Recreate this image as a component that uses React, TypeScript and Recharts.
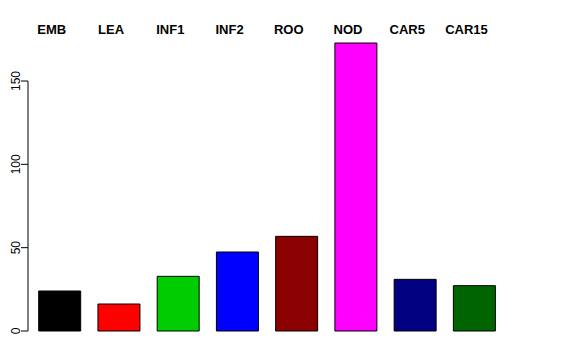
import React from "react";
import { BarChart, Bar, XAxis, YAxis, Cell } from "recharts";

const categories = ["EMB", "LEA", "INF1", "INF2", "ROO", "NOD", "CAR5", "CAR15"];
const values = [24, 16.2, 32.8, 47.4, 56.8, 172.8, 31, 27.2];
const colors = ["#000000", "#FF0000", "#00CD00", "#0000FF", "#8B0000", "#FF00FF", "#000080", "#006400"];
const yTicks = [0, 50, 100, 150];

const data = categories.map((c, i) => ({ name: c, value: values[i] }));

const DOMAIN_MAX = 180;
const PLOT_TOP = 31;
const PLOT_BOTTOM = 331;
const PX_PER_UNIT = (PLOT_BOTTOM - PLOT_TOP) / DOMAIN_MAX;

const YTick = (props: any) => {
  const { x, y, payload, index } = props;
  const span = (yTicks[yTicks.length - 1] - yTicks[0]) * PX_PER_UNIT;
  return (
    <g>
      <line x1={x - 7} y1={y} x2={x} y2={y} stroke="#000" strokeWidth={1} />
      {index === 0 && <line x1={x} y1={y} x2={x} y2={y - span} stroke="#000" strokeWidth={1} />}
      <text
        x={x - 8}
        y={y}
        transform={`rotate(-90, ${x - 8}, ${y})`}
        textAnchor="middle"
        fontSize={12}
        fontFamily="'Liberation Sans', Arial, sans-serif"
        fill="#000"
      >
        {payload.value}
      </text>
    </g>
  );
};

const TopTick = (props: any) => {
  const { x, y, payload } = props;
  return (
    <text
      x={x - 7.5}
      y={y + 3}
      textAnchor="middle"
      fontSize={13}
      fontWeight="bold"
      fontFamily="'Liberation Sans', Arial, sans-serif"
      fill="#000"
    >
      {payload.value}
    </text>
  );
};

export default function App() {
  return (
    <div style={{ position: "absolute", left: 0, top: 0, width: 576, height: 360, background: "#fff" }}>
      <BarChart
        width={576}
        height={360}
        data={data}
        margin={{ top: 11, right: 72.4, bottom: 29, left: 8 }}
        barSize={42}
      >
        <XAxis
          dataKey="name"
          orientation="top"
          height={20}
          axisLine={false}
          tickLine={false}
          tickSize={0}
          tickMargin={0}
          padding={{ left: 1.7, right: 0 }}
          tick={<TopTick />}
          interval={0}
        />
        <YAxis
          width={20}
          domain={[0, DOMAIN_MAX]}
          ticks={yTicks}
          axisLine={false}
          tickLine={false}
          tickSize={0}
          tickMargin={0}
          tick={<YTick />}
          interval={0}
        />
        <Bar dataKey="value" stroke="#000" strokeWidth={1} isAnimationActive={false}>
          {data.map((d, i) => (
            <Cell key={d.name} fill={colors[i]} />
          ))}
        </Bar>
      </BarChart>
    </div>
  );
}
